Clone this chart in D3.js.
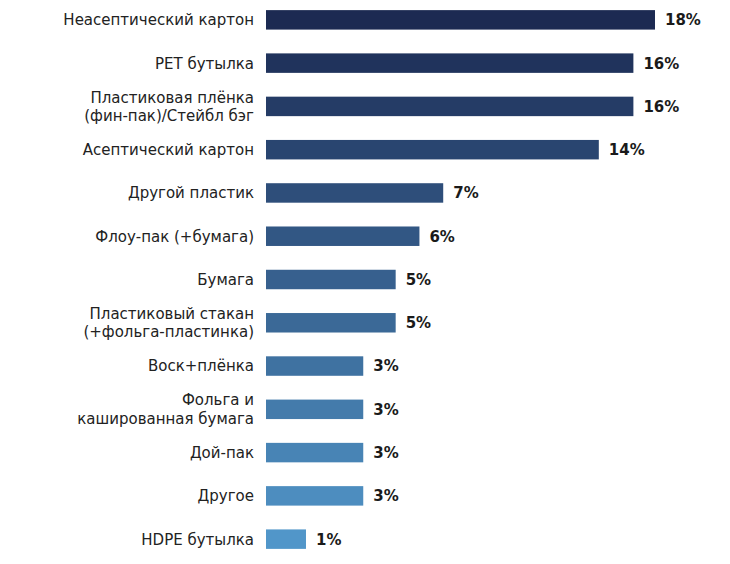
<!DOCTYPE html>
<html><head><meta charset="utf-8">
<script src="https://cdn.jsdelivr.net/npm/d3@7"></script>
<style>body{margin:0;background:#fff}text{font-family:"DejaVu Sans","Open Sans",sans-serif}</style>
</head><body><svg id="c" width="730" height="564"></svg>
<script>
const categories = [
  ["Неасептический картон"],
  ["PET бутылка"],
  ["Пластиковая плёнка","(фин-пак)/Стейбл бэг"],
  ["Асептический картон"],
  ["Другой пластик"],
  ["Флоу-пак (+бумага)"],
  ["Бумага"],
  ["Пластиковый стакан","(+фольга-пластинка)"],
  ["Воск+плёнка"],
  ["Фольга и","кашированная бумага"],
  ["Дой-пак"],
  ["Другое"],
  ["HDPE бутылка"]
];
const values = [18, 17.0, 17.0, 15.4, 8.2, 7.1, 6.0, 6.0, 4.5, 4.5, 4.5, 4.5, 1.85];
const valueLabels = ["18%","16%","16%","14%","7%","6%","5%","5%","3%","3%","3%","3%","1%"];

const svg = d3.select("#c");
const x = d3.scaleLinear().domain([0, 18]).range([266, 655]);
const y = d3.scaleBand().domain(d3.range(categories.length)).range([-2, 561]).paddingInner(0.55).paddingOuter(0.28);
const color = d3.scaleLinear().domain([0, categories.length - 1]).range(["#1c2a52", "#5196c9"]).interpolate(d3.interpolateRgb);

const g = svg.selectAll("g.row").data(values).join("g");
g.append("rect")
  .attr("x", x(0)).attr("y", (d, i) => y(i))
  .attr("width", d => x(d) - x(0)).attr("height", y.bandwidth())
  .attr("fill", (d, i) => color(i));
g.append("text")
  .attr("x", d => x(d) + 10).attr("y", (d, i) => y(i) + y.bandwidth() / 2)
  .attr("dy", "0.36em").attr("font-size", 15).attr("font-weight", 700).attr("fill", "#1a1a1a")
  .text((d, i) => valueLabels[i]);
g.each(function(d, i) {
  const lines = categories[i];
  const t = d3.select(this).append("text")
    .attr("x", 254).attr("text-anchor", "end").attr("font-size", 15).attr("fill", "#222");
  const cy = y(i) + y.bandwidth() / 2;
  lines.forEach((l, j) => {
    t.append("tspan").attr("x", 254)
      .attr("y", cy + (j - (lines.length - 1) / 2) * 18.5)
      .attr("dy", "0.36em").text(l);
  });
});
</script></body></html>
